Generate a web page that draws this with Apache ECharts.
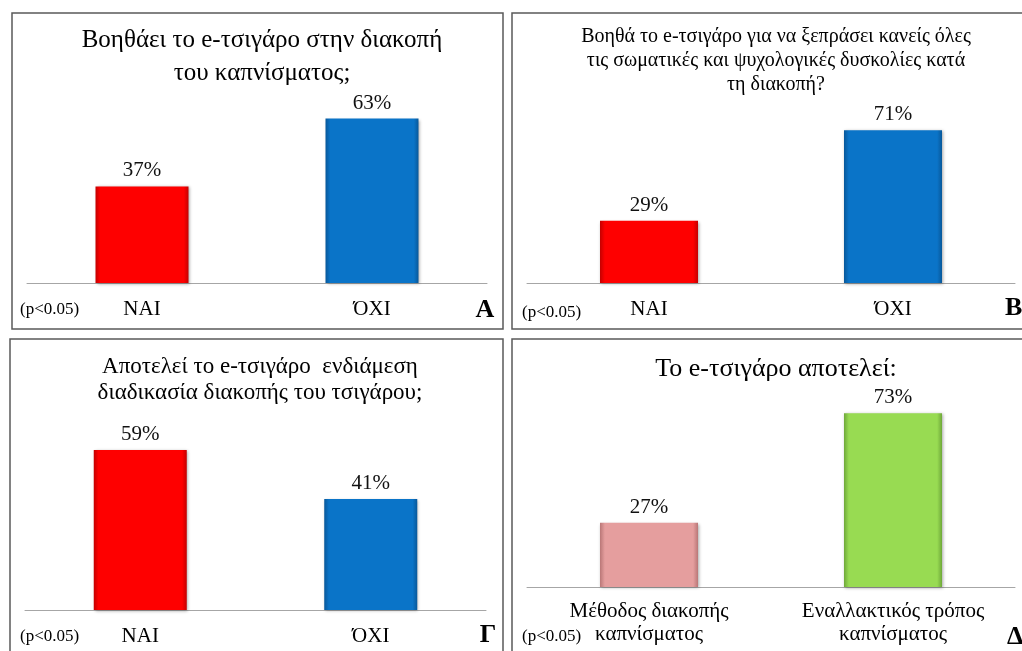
<!DOCTYPE html>
<html>
<head>
<meta charset="utf-8">
<script src="https://cdn.jsdelivr.net/npm/echarts@6/dist/echarts.min.js"></script>
<style>
  body { margin: 0; background: #fff; }
  #main { width: 1022px; height: 651px; }
</style>
</head>
<body>
<div id="main"></div>
<script>
const catsYesNo = ['ΝΑΙ', 'ΌΧΙ']
const catsD = ['Μέθοδος διακοπής\nκαπνίσματος', 'Εναλλακτικός τρόπος\nκαπνίσματος']
const valuesA = [37, 63]
const valuesB = [29, 71]
const valuesC = [59, 41]
const valuesD = [27, 73]
const titleA = 'Βοηθάει το e-τσιγάρο στην διακοπή\nτου καπνίσματος;'
const titleB = 'Βοηθά το e-τσιγάρο για να ξεπράσει κανείς όλες\nτις σωματικές και ψυχολογικές δυσκολίες κατά\nτη διακοπή?'
const titleC = 'Αποτελεί το e-τσιγάρο  ενδιάμεση\nδιαδικασία διακοπής του τσιγάρου;'
const titleD = 'Το e-τσιγάρο αποτελεί:'

const serif = '"Liberation Serif", "Times New Roman", serif'

function barColor(base, edge) {
    return new echarts.graphic.LinearGradient(0, 0, 1, 0, [
        { offset: 0, color: edge },
        { offset: 0.05, color: base },
        { offset: 0.95, color: base },
        { offset: 1, color: edge },
    ])
}

const red = barColor('#fe0000', '#c40000')
const blue = barColor('#0a74c8', '#08589a')
const pink = barColor('#e59e9e', '#b97777')
const green = barColor('#98db52', '#6fa83a')

const myChart = echarts.init(document.getElementById('main'))

const grids = [
    { left: 27, width: 460, top: 22, height: 261 },
    { left: 527, width: 488, top: 68, height: 215 },
    { left: 25, width: 461, top: 339, height: 271 },
    { left: 527, width: 488, top: 349, height: 238 },
]

function xAxisFor(i, cats) {
    return {
        type: 'category',
        gridIndex: i,
        data: cats,
        axisLine: { lineStyle: { color: '#a6a6a6', width: 1 } },
        axisTick: { show: false },
        axisLabel: {
            color: '#000',
            fontFamily: serif,
            fontSize: 21,
            lineHeight: 23,
            margin: i === 3 ? 13 : 15,
        },
    }
}

function yAxisFor(i) {
    return { type: 'value', gridIndex: i, min: 0, max: 100, show: false }
}

function seriesFor(i, values, colors, bw) {
    return {
        type: 'bar',
        xAxisIndex: i,
        yAxisIndex: i,
        barWidth: bw,
        data: values.map((v, k) => ({
            value: v,
            itemStyle: { color: colors[k] },
        })),
        itemStyle: {
            shadowColor: 'rgba(0,0,0,0.35)',
            shadowBlur: 3,
            shadowOffsetX: 1,
            shadowOffsetY: 1,
        },
        label: {
            show: true,
            position: 'top',
            distance: 5,
            formatter: '{c}%',
            color: '#111',
            fontFamily: serif,
            fontSize: 21,
        },
    }
}

function titleFor(text, x, top, size, lh) {
    return {
        text: text,
        left: x,
        top: top,
        textAlign: 'center',
        textStyle: {
            fontFamily: serif,
            fontWeight: 'normal',
            fontSize: size,
            lineHeight: lh,
            color: '#000',
        },
    }
}

function frame(x, y, w, h) {
    return {
        type: 'rect',
        shape: { x: x, y: y, width: w, height: h },
        style: { fill: 'none', stroke: '#5a5a5a', lineWidth: 1.5 },
        silent: true,
    }
}

function note(x, y) {
    return {
        type: 'text',
        x: x,
        y: y,
        style: { text: '(p<0.05)', font: '17px ' + serif, fill: '#000', textVerticalAlign: 'middle' },
    }
}

function letter(t, x, y, align) {
    return {
        type: 'text',
        x: x,
        y: y,
        style: {
            text: t,
            font: 'bold 26px ' + serif,
            fill: '#000',
            textAlign: align,
            textVerticalAlign: 'middle',
        },
    }
}

const option = {
    backgroundColor: '#fff',
    animation: false,
    title: [
        titleFor(titleA, 257, 19, 25, 33),
        titleFor(titleB, 771, 20, 20, 24),
        titleFor(titleC, 255, 349, 23, 26),
        titleFor(titleD, 771, 350, 26, 28),
    ],
    grid: grids,
    xAxis: [
        xAxisFor(0, catsYesNo),
        xAxisFor(1, catsYesNo),
        xAxisFor(2, catsYesNo),
        xAxisFor(3, catsD),
    ],
    yAxis: [yAxisFor(0), yAxisFor(1), yAxisFor(2), yAxisFor(3)],
    series: [
        seriesFor(0, valuesA, [red, blue], 93),
        seriesFor(1, valuesB, [red, blue], 98),
        seriesFor(2, valuesC, [red, blue], 93),
        seriesFor(3, valuesD, [pink, green], 98),
    ],
    graphic: [
        frame(12, 13, 491, 316),
        frame(512, 13, 520, 316),
        frame(10, 339, 493, 320),
        frame(512, 339, 520, 320),
        note(20, 310),
        note(522, 313),
        note(20, 637),
        note(522, 637),
        letter('A', 485, 310, 'center'),
        letter('B', 1005, 308, 'left'),
        letter('Γ', 488, 635, 'center'),
        letter('Δ', 1007, 637, 'left'),
    ],
}

myChart.setOption(option)
</script>
</body>
</html>
